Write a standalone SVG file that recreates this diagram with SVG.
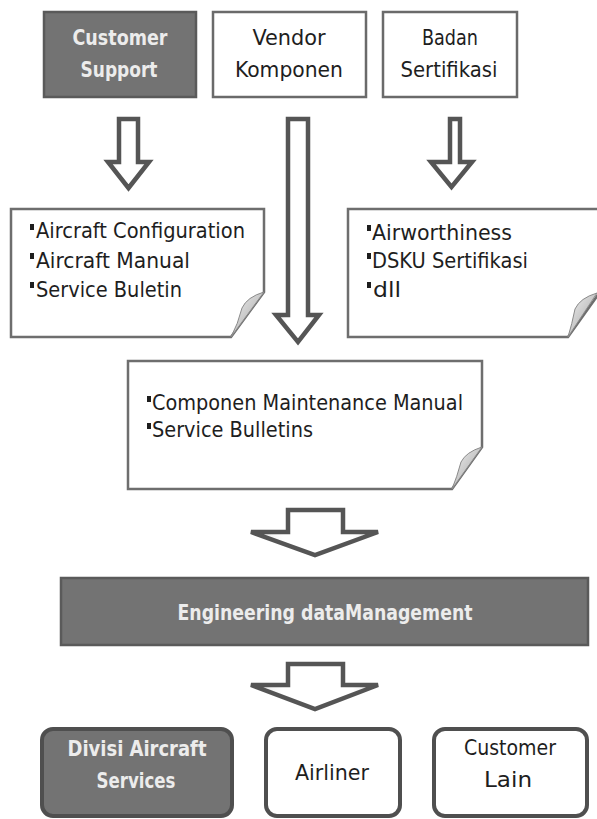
<svg xmlns="http://www.w3.org/2000/svg" width="597" height="819" viewBox="0 0 597 819">
  <defs>
    <linearGradient id="curl" x1="0" y1="0" x2="1" y2="1">
      <stop offset="0" stop-color="#f2f2f2"/>
      <stop offset="0.55" stop-color="#c4c4c4"/>
      <stop offset="1" stop-color="#7d7d7d"/>
    </linearGradient>
    <linearGradient id="shaft" x1="0" y1="0" x2="1" y2="0">
      <stop offset="0" stop-color="#e6e6e6"/>
      <stop offset="0.25" stop-color="#ffffff"/>
      <stop offset="0.8" stop-color="#ffffff"/>
      <stop offset="1" stop-color="#dcdcdc"/>
    </linearGradient>
  </defs>
  <style>
    .lbl { font-family: "Liberation Sans Narrow", "DejaVu Sans Condensed", "Liberation Sans", sans-serif; font-size: 22px; text-anchor: middle; }
    .note-txt { font-family: "Liberation Sans Narrow", "DejaVu Sans Condensed", "Liberation Sans", sans-serif; font-size: 22px; fill: #1e1e1e; }
    .dark { fill: #737373; stroke: #5a5a5a; stroke-width: 2.5; }
    .light { fill: #ffffff; stroke: #6a6a6a; stroke-width: 2.5; }
    .on-dark { fill: #ececec; font-weight: bold; }
    .on-light { fill: #1e1e1e; }
    .rdark { fill: #737373; stroke: #4f4f4f; stroke-width: 4; }
    .rlight { fill: #ffffff; stroke: #4f4f4f; stroke-width: 4; }
    .note { fill: #ffffff; stroke: #6e6e6e; stroke-width: 2.5; stroke-linejoin: miter; }
    .curl { fill: url(#curl); stroke: #8a8a8a; stroke-width: 1; }
    .bullet { fill: #1e1e1e; }
    .arrow { fill: url(#shaft); stroke: #555555; stroke-width: 4.5; stroke-linejoin: miter; }
  </style>

  <!-- sources -->
  <g id="customer-support">
    <rect class="dark" x="44" y="12" width="152" height="85"/>
    <text class="lbl on-dark" x="120" y="45" textLength="95" lengthAdjust="spacingAndGlyphs">Customer</text>
    <text class="lbl on-dark" x="119" y="77" textLength="77" lengthAdjust="spacingAndGlyphs">Support</text>
  </g>
  <g id="vendor-komponen">
    <rect class="light" x="213" y="12" width="153" height="85"/>
    <text class="lbl on-light" x="289" y="45" textLength="73" lengthAdjust="spacingAndGlyphs">Vendor</text>
    <text class="lbl on-light" x="289" y="77" textLength="108" lengthAdjust="spacingAndGlyphs">Komponen</text>
  </g>
  <g id="badan-sertifikasi">
    <rect class="light" x="383" y="12" width="134" height="85"/>
    <text class="lbl on-light" x="450" y="45" textLength="56" lengthAdjust="spacingAndGlyphs">Badan</text>
    <text class="lbl on-light" x="449" y="77" textLength="97" lengthAdjust="spacingAndGlyphs">Sertifikasi</text>
  </g>

  <!-- document notes -->
  <g id="note-customer-support">
    <path class="note" d="M11,209 H264 V292 L231,337 H11 Z"/>
    <path class="curl" d="M264,292 Q247,297 242,308 Q238,324 231,337 Z"/>
    <rect class="bullet" x="30" y="224" width="4" height="6"/>
    <text class="note-txt" x="36" y="238" textLength="209" lengthAdjust="spacingAndGlyphs">Aircraft Configuration</text>
    <rect class="bullet" x="30" y="253" width="4" height="6"/>
    <text class="note-txt" x="36" y="268" textLength="154" lengthAdjust="spacingAndGlyphs">Aircraft  Manual</text>
    <rect class="bullet" x="30" y="282" width="4" height="6"/>
    <text class="note-txt" x="36" y="297" textLength="146" lengthAdjust="spacingAndGlyphs">Service Buletin</text>
  </g>
  <g id="note-badan-sertifikasi">
    <path class="note" d="M348,209 H600 V292 L568,337 H348 Z"/>
    <path class="curl" d="M597,293 Q580,298 575,309 Q572,324 568,337 Z"/>
    <rect class="bullet" x="367" y="225" width="4" height="6"/>
    <text class="note-txt" x="372" y="240" textLength="140" lengthAdjust="spacingAndGlyphs">Airworthiness</text>
    <rect class="bullet" x="367" y="253" width="4" height="6"/>
    <text class="note-txt" x="372" y="268" textLength="156" lengthAdjust="spacingAndGlyphs">DSKU Sertifikasi</text>
    <rect class="bullet" x="367" y="282" width="4" height="6"/>
    <text class="note-txt" x="373" y="297" textLength="28" lengthAdjust="spacingAndGlyphs">dll</text>
  </g>
  <g id="note-vendor-komponen">
    <path class="note" d="M128,361 H482 V447 L452,489 H128 Z"/>
    <path class="curl" d="M482,447 Q466,452 461,462 Q457,477 452,489 Z"/>
    <rect class="bullet" x="147" y="396" width="4" height="6"/>
    <text class="note-txt" x="152" y="410" textLength="311" lengthAdjust="spacingAndGlyphs">Componen Maintenance Manual</text>
    <rect class="bullet" x="147" y="423" width="4" height="6"/>
    <text class="note-txt" x="152" y="437" textLength="161" lengthAdjust="spacingAndGlyphs">Service Bulletins</text>
  </g>

  <!-- central processing -->
  <g id="engineering-data-management">
    <rect class="dark" x="61" y="578" width="527" height="67"/>
    <text class="lbl on-dark" x="325" y="620" textLength="295" lengthAdjust="spacingAndGlyphs">Engineering dataManagement</text>
  </g>

  <!-- consumers -->
  <g id="divisi-aircraft-services">
    <rect class="rdark" x="42" y="729" width="190" height="87" rx="11" ry="11"/>
    <text class="lbl on-dark" x="137" y="756" textLength="139" lengthAdjust="spacingAndGlyphs">Divisi Aircraft</text>
    <text class="lbl on-dark" x="136" y="788" textLength="79" lengthAdjust="spacingAndGlyphs">Services</text>
  </g>
  <g id="airliner">
    <rect class="rlight" x="266" y="729" width="134" height="87" rx="11" ry="11"/>
    <text class="lbl on-light" x="332" y="780" textLength="74" lengthAdjust="spacingAndGlyphs">Airliner</text>
  </g>
  <g id="customer-lain">
    <rect class="rlight" x="434" y="729" width="153" height="87" rx="11" ry="11"/>
    <text class="lbl on-light" x="510" y="755" textLength="92" lengthAdjust="spacingAndGlyphs">Customer</text>
    <text class="lbl on-light" x="508" y="787" textLength="48" lengthAdjust="spacingAndGlyphs">Lain</text>
  </g>

  <!-- block arrows -->
  <g id="connectors">
    <path class="arrow" d="M119,119 H138 V162 H149 L128.5,188 L108,162 H119 Z"/>
    <path class="arrow" d="M288,119 H308 V315 H319 L298,342 L276,315 H288 Z"/>
    <path class="arrow" d="M450,119 H460 V162 H472 L451.5,187 L431,162 H450 Z"/>
    <path class="arrow" d="M288,510 H343 V532 H378 L315,555 L251,532 H288 Z"/>
    <path class="arrow" d="M288,664 H343 V685 H378 L315,709 L251,685 H288 Z"/>
  </g>
</svg>
